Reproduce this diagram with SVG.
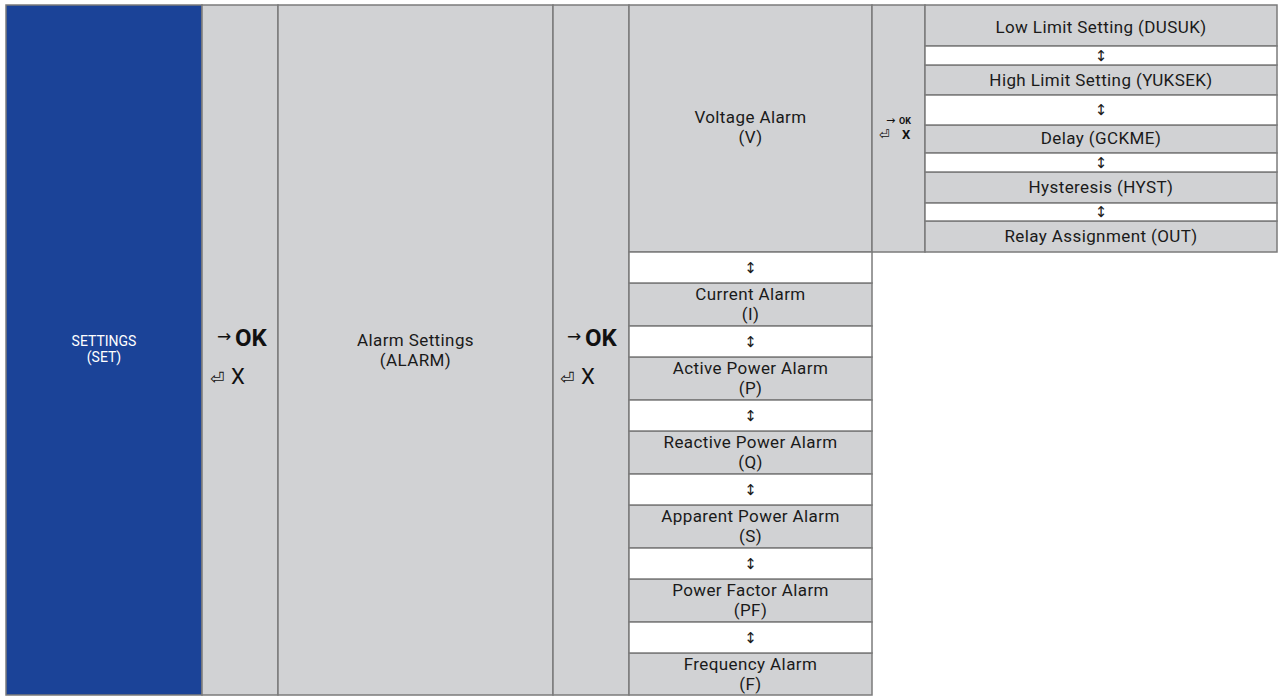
<svg xmlns="http://www.w3.org/2000/svg" width="1278" height="697" viewBox="0 0 1278 697">
<style>
.c{stroke:#7b7b7b;stroke-width:1.5}
.g{fill:#d1d2d4}
.w{fill:#ffffff}
.b{fill:#1b4398}
.t{font-family:Roboto,"Liberation Sans",sans-serif;font-size:17px;fill:#1a1a1a;text-anchor:middle;letter-spacing:0.4px}
.s{font-family:Roboto,"Liberation Sans",sans-serif;font-size:14px;fill:#ffffff;text-anchor:middle}
.a{font-family:"DejaVu Sans",sans-serif;font-size:15px;fill:#1a1a1a;text-anchor:middle}
.ok{font-family:Roboto,"Liberation Sans",sans-serif;font-size:24px;font-weight:bold;fill:#111}
.x{font-family:Roboto,"Liberation Sans",sans-serif;font-size:22px;fill:#111}
.ar{font-family:"DejaVu Sans",sans-serif;font-size:17px;fill:#111}
</style>
<rect x="0" y="0" width="1278" height="697" fill="#ffffff"/>
<g id="settings">
<rect class="c b" x="6" y="5" width="196" height="690"/>
<text class="s" x="104" y="346">SETTINGS</text>
<text class="s" x="104" y="362">(SET)</text>
</g>
<g id="nav1">
<rect class="c g" x="202" y="5" width="76" height="690"/>
<text class="ar" x="217" y="342">→</text>
<text class="ok" x="235" y="346">OK</text>
<text class="ar" x="210" y="384">⏎</text>
<text class="x" x="231" y="384">X</text>
</g>
<g id="alarm-settings">
<rect class="c g" x="278" y="5" width="275" height="690"/>
<text class="t" x="415.5" y="346">Alarm Settings</text>
<text class="t" x="415.5" y="366">(ALARM)</text>
</g>
<g id="nav2">
<rect class="c g" x="553" y="5" width="76" height="690"/>
<text class="ar" x="567" y="342">→</text>
<text class="ok" x="585" y="346">OK</text>
<text class="ar" x="560" y="384">⏎</text>
<text class="x" x="581" y="384">X</text>
</g>
<g id="voltage-alarm">
<rect class="c g" x="629" y="5" width="243" height="247"/>
<text class="t" x="750.5" y="123">Voltage Alarm</text>
<text class="t" x="750.5" y="143">(V)</text>
</g>
<g id="nav3">
<rect class="c g" x="872" y="5" width="53" height="247"/>
<text class="ar" x="886" y="124" style="font-size:11px">→</text>
<text class="ok" x="899" y="124" style="font-size:9px">OK</text>
<text class="ar" x="879" y="139" style="font-size:13px">⏎</text>
<text class="ok" x="902" y="139" style="font-size:13px">X</text>
</g>
<g id="low-limit"><rect class="c g" x="925" y="5" width="352" height="41"/><text class="t" x="1101" y="33">Low Limit Setting (DUSUK)</text></g>
<g id="high-limit"><rect class="c g" x="925" y="65" width="352" height="30"/><text class="t" x="1101" y="86">High Limit Setting (YUKSEK)</text></g>
<g id="delay"><rect class="c g" x="925" y="125" width="352" height="28"/><text class="t" x="1101" y="144">Delay (GCKME)</text></g>
<g id="hysteresis"><rect class="c g" x="925" y="172" width="352" height="31"/><text class="t" x="1101" y="193">Hysteresis (HYST)</text></g>
<g id="relay"><rect class="c g" x="925" y="221" width="352" height="31"/><text class="t" x="1101" y="242">Relay Assignment (OUT)</text></g>
<g id="current-alarm"><rect class="c g" x="629" y="283" width="243" height="43"/><text class="t" x="750.5" y="300">Current Alarm</text><text class="t" x="750.5" y="320">(I)</text></g>
<g id="active-power-alarm"><rect class="c g" x="629" y="357" width="243" height="43"/><text class="t" x="750.5" y="374">Active Power Alarm</text><text class="t" x="750.5" y="394">(P)</text></g>
<g id="reactive-power-alarm"><rect class="c g" x="629" y="431" width="243" height="43"/><text class="t" x="750.5" y="448">Reactive Power Alarm</text><text class="t" x="750.5" y="468">(Q)</text></g>
<g id="apparent-power-alarm"><rect class="c g" x="629" y="505" width="243" height="43"/><text class="t" x="750.5" y="522">Apparent Power Alarm</text><text class="t" x="750.5" y="542">(S)</text></g>
<g id="power-factor-alarm"><rect class="c g" x="629" y="579" width="243" height="43"/><text class="t" x="750.5" y="596">Power Factor Alarm</text><text class="t" x="750.5" y="616">(PF)</text></g>
<g id="frequency-alarm"><rect class="c g" x="629" y="653" width="243" height="42"/><text class="t" x="750.5" y="670">Frequency Alarm</text><text class="t" x="750.5" y="690">(F)</text></g>
<g id="connectors">
<rect class="c w" x="925" y="46" width="352" height="19"/><text class="a" x="1101" y="61">↕</text>
<rect class="c w" x="925" y="95" width="352" height="30"/><text class="a" x="1101" y="115">↕</text>
<rect class="c w" x="925" y="153" width="352" height="19"/><text class="a" x="1101" y="168">↕</text>
<rect class="c w" x="925" y="203" width="352" height="18"/><text class="a" x="1101" y="217">↕</text>
<rect class="c w" x="629" y="252" width="243" height="31"/><text class="a" x="750.5" y="273">↕</text>
<rect class="c w" x="629" y="326" width="243" height="31"/><text class="a" x="750.5" y="347">↕</text>
<rect class="c w" x="629" y="400" width="243" height="31"/><text class="a" x="750.5" y="421">↕</text>
<rect class="c w" x="629" y="474" width="243" height="31"/><text class="a" x="750.5" y="495">↕</text>
<rect class="c w" x="629" y="548" width="243" height="31"/><text class="a" x="750.5" y="569">↕</text>
<rect class="c w" x="629" y="622" width="243" height="31"/><text class="a" x="750.5" y="643">↕</text>
</g>
</svg>
